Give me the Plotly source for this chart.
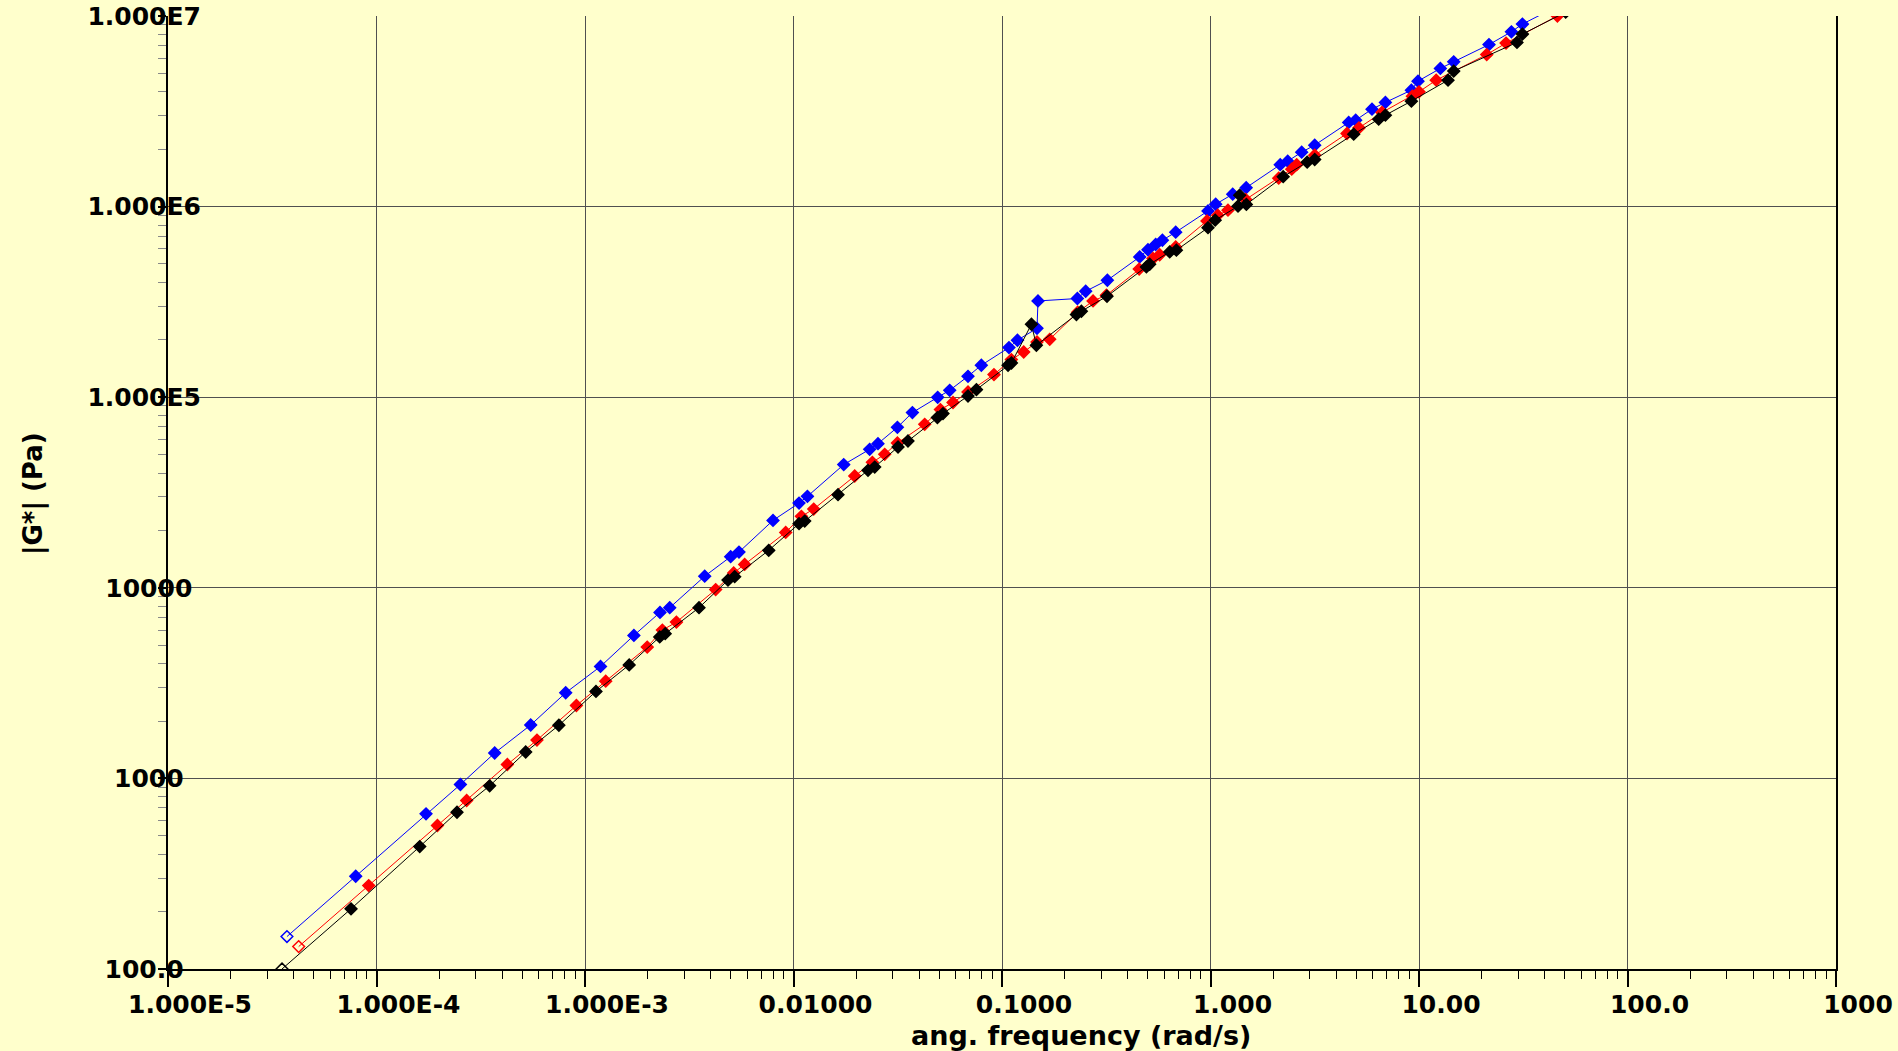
import plotly.graph_objects as go

# ---- data (angular frequency in rad/s, |G*| in Pa) ----
blue_freq = [3.72e-5, 7.95e-5, 1.728e-4, 2.526e-4, 3.688e-4, 5.49e-4, 8.08e-4, 1.187e-3, 1.716e-3,
             2.289e-3, 2.549e-3, 3.751e-3, 4.996e-3, 5.477e-3, 7.975e-3, 0.01063, 0.01166, 0.01741,
             0.02319, 0.02542, 0.0315, 0.03718, 0.04915, 0.05613, 0.0687, 0.0796, 0.1080, 0.1186,
             0.1472, 0.1488, 0.2299, 0.2520, 0.3202, 0.4575, 0.5013, 0.5459, 0.5879, 0.6809, 0.9728,
             1.059, 1.278, 1.483, 2.160, 2.346, 2.737, 3.161, 4.600, 4.970, 5.951, 6.900, 9.194,
             9.890, 12.66, 14.67, 21.66, 27.75, 31.33, 47.29]
blue_gstar = [148, 306.7, 652, 929, 1359, 1907, 2814, 3868, 5625,
              7429, 7862, 11505, 14568, 15399, 22578, 27835, 30182, 44289,
              53279, 57070, 69502, 83040, 99880, 108700, 128700, 147100, 182200, 199000,
              229900, 319900, 329400, 359700, 410800, 544500, 594000, 632600, 666200, 733900, 949300,
              1.029e6, 1.162e6, 1.257e6, 1.659e6, 1.731e6, 1.930e6, 2.101e6, 2.764e6, 2.841e6, 3.246e6,
              3.520e6, 4.083e6, 4.553e6, 5.308e6, 5.750e6, 7.078e6, 8.263e6, 9.068e6, 1.141e7]

red_freq = [4.234e-5, 9.175e-5, 1.96e-4, 2.707e-4, 4.243e-4, 5.884e-4, 9.095e-4, 1.257e-3, 1.988e-3,
            2.350e-3, 2.744e-3, 4.234e-3, 5.165e-3, 5.832e-3, 9.175e-3, 0.01091, 0.01250, 0.01966,
            0.02389, 0.02738, 0.03150, 0.04259, 0.05065, 0.05821, 0.0687, 0.0915, 0.1109, 0.1271,
            0.1472, 0.1694, 0.2307, 0.2733, 0.3167, 0.4550, 0.5299, 0.5706, 0.6809, 0.9620, 1.083,
            1.213, 1.475, 2.124, 2.452, 2.591, 3.161, 4.515, 5.154, 6.645, 9.296, 10.0, 12.09,
            21.12, 26.15, 46.11]
red_gstar = [131.1, 274.0, 565.9, 765.6, 1183, 1589, 2413, 3237, 4884,
             5998, 6607, 9786, 11973, 13270, 19534, 23701, 25888, 38585,
             45527, 50154, 57490, 72080, 86070, 93800, 106500, 131400, 157600, 172700,
             194900, 201300, 279100, 319900, 342600, 470300, 534000, 559100, 614400, 841400, 901500,
             957400, 1.090e6, 1.410e6, 1.572e6, 1.659e6, 1.861e6, 2.419e6, 2.589e6, 3.119e6, 3.798e6,
             4.001e6, 4.608e6, 6.273e6, 7.206e6, 1.0e7]

black_freq = [3.522e-5, 7.546e-5, 1.612e-4, 2.433e-4, 3.489e-4, 5.195e-4, 7.494e-4, 1.129e-3, 1.629e-3,
              2.282e-3, 2.425e-3, 3.522e-3, 4.850e-3, 5.224e-3, 7.606e-3, 0.01063, 0.01132, 0.01635,
              0.02277, 0.02452, 0.03172, 0.03541, 0.04899, 0.05212, 0.0687, 0.0754, 0.1069, 0.1110,
              0.1384, 0.1462, 0.2275, 0.2403, 0.3189, 0.4927, 0.5109, 0.6373, 0.6861, 0.9728, 1.053,
              1.355, 1.380, 1.486, 2.232, 2.909, 3.161, 4.862, 6.408, 6.900, 9.194, 13.78, 14.67,
              29.51, 31.33, 50.53]
black_gstar = [100.0, 206.8, 438.9, 664.6, 914.6, 1376, 1900, 2860, 3939,
               5525, 5743, 7862, 10975, 11437, 15717, 21700, 22390, 30810,
               41330, 43010, 54780, 58900, 78150, 82040, 101500, 109600, 147100, 151200,
               241300, 187300, 271400, 282500, 338500, 482500, 498400, 578500, 590500, 775000, 848500,
               1.005e6, 1.148e6, 1.027e6, 1.436e6, 1.711e6, 1.767e6, 2.399e6, 2.876e6, 3.018e6, 3.575e6,
               4.608e6, 5.138e6, 7.268e6, 8.035e6, 1.048e7]

x_tickvals = [1e-5, 1e-4, 1e-3, 1e-2, 1e-1, 1, 10, 100, 1000]
x_ticktext = ["1.000E-5", "1.000E-4", "1.000E-3", "0.01000", "0.1000", "1.000", "10.00", "100.0", "1000"]
y_tickvals = [100, 1000, 1e4, 1e5, 1e6, 1e7]
y_ticktext = ["100.0", "1000", "10000", "1.000E5", "1.000E6", "1.000E7"]

x_title = "ang. frequency (rad/s)"
y_title = "|G*| (Pa)"

series = [
    (blue_freq, blue_gstar, "#0000FF"),
    (red_freq, red_gstar, "#FF0000"),
    (black_freq, black_gstar, "#000000"),
]

BG = "#FFFFCC"
NB = "\u00a0"
TICKFONT = dict(family="DejaVu Sans, Verdana, sans-serif", size=25, color="#000000", weight="bold")
XTITLEFONT = dict(family="DejaVu Sans, sans-serif", size=27, color="#000000", weight="bold")
YTITLEFONT = dict(family="DejaVu Sans, sans-serif", size=26, color="#000000", weight="bold")

# pad the narrower y labels so they sit roughly centred like the original
y_pad = {"100.0": 2, "1000": 2, "10000": 1}
y_ticktext_padded = [t + NB * y_pad.get(t, 0) for t in y_ticktext]

fig = go.Figure()
for fx, gy, col in series:
    symbols = ["diamond-open"] + ["diamond"] * (len(fx) - 1)
    fig.add_trace(go.Scatter(
        x=fx, y=gy, mode="lines+markers",
        line=dict(color=col, width=1),
        marker=dict(symbol=symbols, size=9, color=col, line=dict(color=col, width=1.5)),
        showlegend=False,
    ))

x_minor = [m * 10.0 ** e for e in range(-5, 3) for m in range(2, 10)]
y_minor = [m * 10.0 ** e for e in range(2, 7) for m in range(2, 10)]

L, R, T, B = 168, 62, 16, 82
W, H = 1898, 1051
pw, ph = W - L - R, H - T - B

fig.update_layout(
    width=W, height=H,
    paper_bgcolor=BG, plot_bgcolor=BG,
    margin=dict(l=L, r=R, t=T, b=B, autoexpand=False),
    showlegend=False,
    xaxis=dict(
        type="log", range=[-5, 3], automargin=False,
        tickmode="array", tickvals=x_tickvals, ticktext=x_ticktext,
        tickfont=TICKFONT, ticks="outside", ticklen=16, tickwidth=1.5, tickcolor="#000000",
        ticklabelshift=22, ticklabelstandoff=-4,
        showgrid=True, gridcolor="#505050", gridwidth=1.2,
        showline=True, linecolor="#000000", linewidth=2,
        zeroline=False,
        minor=dict(tickmode="array", tickvals=x_minor, ticks="outside", ticklen=8,
                   tickwidth=1.2, tickcolor="#000000", showgrid=False),
    ),
    yaxis=dict(
        type="log", range=[2, 7], automargin=False,
        tickmode="array", tickvals=y_tickvals, ticktext=y_ticktext_padded,
        tickfont=TICKFONT, ticks="outside", ticklen=8, tickwidth=1.5, tickcolor="#000000",
        ticklabelstandoff=-48,
        showgrid=True, gridcolor="#505050", gridwidth=1.2,
        showline=True, linecolor="#000000", linewidth=2, mirror=True,
        zeroline=False,
        minor=dict(tickmode="array", tickvals=y_minor, ticks="outside", ticklen=8,
                   tickwidth=1.2, tickcolor="#888888", showgrid=False),
    ),
    annotations=[
        dict(text=x_title, xref="paper", yref="paper",
             x=(1081 - L) / pw, y=(H - B - 1035) / ph,
             xanchor="center", yanchor="middle", showarrow=False, font=XTITLEFONT),
        dict(text=y_title, xref="paper", yref="paper", textangle=-90,
             x=(33 - L) / pw, y=(H - B - 494) / ph,
             xanchor="center", yanchor="middle", showarrow=False, font=YTITLEFONT),
    ],
)

fig.write_html(
    "out.html",
    config={"displayModeBar": False},
    post_script="document.body.style.margin='0';document.body.style.background='#FFFFCC';"
                "document.documentElement.style.overflow='hidden';",
)
